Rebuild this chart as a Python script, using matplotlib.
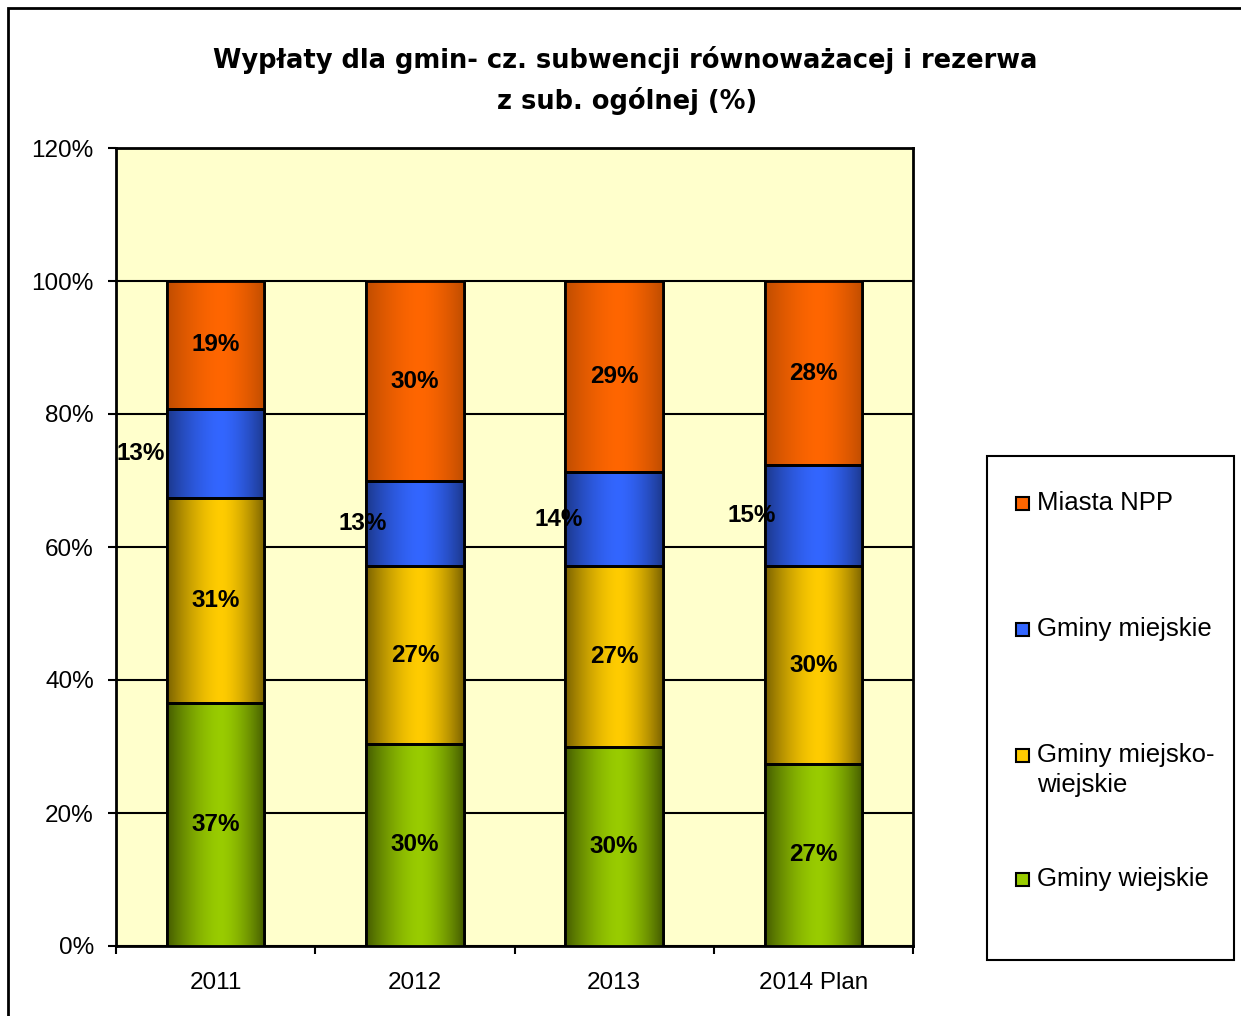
import numpy as np
import matplotlib
matplotlib.use("Agg")
import matplotlib.pyplot as plt
from matplotlib.patches import Rectangle
from matplotlib.colors import to_rgb

categories = ["2011", "2012", "2013", "2014 Plan"]
series_names = ["Gminy wiejskie", "Gminy miejsko-\nwiejskie", "Gminy miejskie", "Miasta NPP"]
gminy_wiejskie = [36.6, 30.4, 29.9, 27.4]
gminy_miejsko_wiejskie = [30.8, 26.7, 27.2, 29.7]
gminy_miejskie = [13.4, 12.8, 14.2, 15.2]
miasta_npp = [19.2, 30.1, 28.7, 27.7]
yticks = [0, 20, 40, 60, 80, 100, 120]
ytick_labels = ["0%", "20%", "40%", "60%", "80%", "100%", "120%"]

colors = ["#99CC00", "#FFCC00", "#3366FF", "#FF6600"]
dark_factor = [0.45, 0.48, 0.55, 0.75]
blue_label_offsets = [-0.375, -0.26, -0.28, -0.31]

plt.rcParams['font.family'] = ['Liberation Sans', 'DejaVu Sans']

fig = plt.figure(figsize=(12.41, 10.16), dpi=100)
fig.patch.set_facecolor("white")
ax = fig.add_axes([116/1241, 1-946/1016, (913-116)/1241, (946-148)/1016])
ax.set_facecolor("#FFFFCC")

data = [gminy_wiejskie, gminy_miejsko_wiejskie, gminy_miejskie, miasta_npp]
x = np.arange(len(categories))
width = 0.49
bottom = np.zeros(len(categories))

t = np.linspace(0, 1, 200)
p = 0.55
u = np.where(t < p, (p - t) / p, (t - p) / (1 - p))
prof = 1 - u ** 1.6

for si, vals in enumerate(data):
    vals = np.array(vals)
    bars = ax.bar(x, vals, width, bottom=bottom, facecolor=colors[si],
                  edgecolor="black", linewidth=2, zorder=3)
    c = np.array(to_rgb(colors[si]))
    d = c * dark_factor[si]
    grad = d[None, :] + (c - d)[None, :] * prof[:, None]
    img = grad[None, :, :]
    for b in bars:
        x0, y0 = b.get_x(), b.get_y()
        ax.imshow(img, extent=[x0, x0 + b.get_width(), y0, y0 + b.get_height()],
                  aspect="auto", zorder=3.5, interpolation="bilinear")
        ax.add_patch(Rectangle((x0, y0), b.get_width(), b.get_height(), fill=False,
                               edgecolor="black", linewidth=2, zorder=4))
    for i, v in enumerate(vals):
        xc = x[i] + (blue_label_offsets[i] if si == 2 else 0)
        ax.text(xc, bottom[i] + v / 2, f"{v:.0f}%", ha="center", va="center",
                fontsize=17.5, fontweight="bold", color="black", zorder=6)
    bottom = bottom + vals

ax.set_xlim(-0.5, 3.5)
ax.set_ylim(0, 120)
ax.set_yticks(yticks)
ax.set_yticklabels(ytick_labels, fontsize=17.5)
ax.set_xticks(x)
ax.set_xticklabels(categories, fontsize=17.5)
ax.set_xticks(np.arange(-0.5, 3.6, 1), minor=True)
ax.tick_params(axis="x", which="major", length=0, pad=19)
ax.tick_params(axis="x", which="minor", length=6, width=1.5, direction="out")
ax.tick_params(axis="y", which="major", length=6, width=1.5, direction="out", pad=10)
ax.yaxis.grid(True, color="black", linewidth=1.5, zorder=1)
ax.set_axisbelow(True)
for s in ax.spines.values():
    s.set_linewidth(2)
    s.set_color("black")

# Title
title_font = ['DejaVu Sans']
fig.text(625/1241, 1-60/1016, "Wypłaty dla gmin- cz. subwencji równoważacej i rezerwa",
         ha="center", va="center", fontsize=18.5, fontweight="bold", family=title_font)
fig.text(627/1241, 1-101/1016, "z sub. ogólnej (%)",
         ha="center", va="center", fontsize=18.5, fontweight="bold", family=title_font)

# Outer border
fig.add_artist(Rectangle((8/1241, -0.05), 1.1, 1.05 - 8/1016, transform=fig.transFigure,
                         fill=False, edgecolor="black", linewidth=2))

# Legend (manual)
fig.add_artist(Rectangle((987/1241, 1-960/1016), (1234-987)/1241, (960-456)/1016,
                         transform=fig.transFigure, fill=False, edgecolor="black", linewidth=1.5))
legend_y = [503, 629, 755, 879]
order = [3, 2, 1, 0]
for yy, si in zip(legend_y, order):
    fig.add_artist(Rectangle((1016/1241, 1-(yy+7)/1016), 13/1241, 13/1016,
                             transform=fig.transFigure, facecolor=colors[si],
                             edgecolor="black", linewidth=1.5))
    lines = series_names[si].split("\n")
    for li, line in enumerate(lines):
        fig.text(1037/1241, 1-(yy + 30*li)/1016, line, ha="left", va="center",
                 fontsize=18.5)

fig.savefig("out.png", dpi=100)
